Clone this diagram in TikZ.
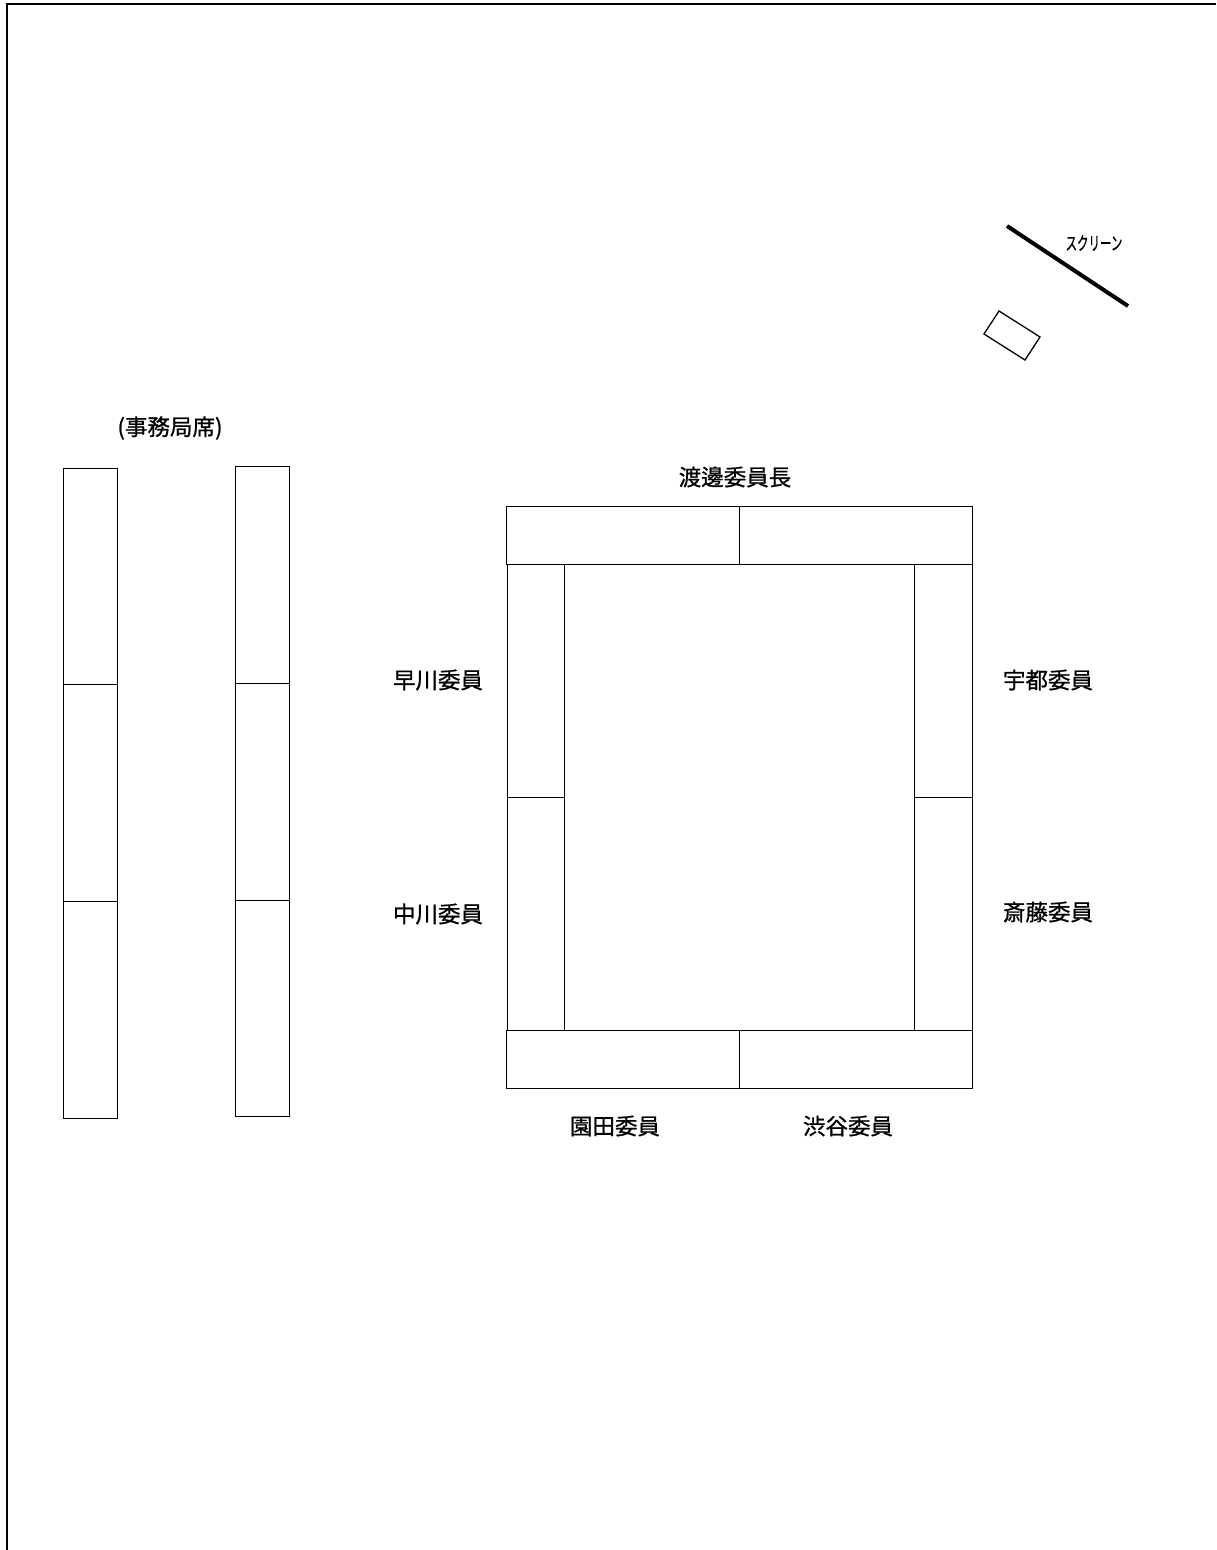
\documentclass[tikz,border=0pt]{standalone}
\usepackage{fontspec}
\newfontfamily\cjk{Noto Sans CJK JP}[FakeBold=0.9]
\begin{document}
\begin{tikzpicture}[x=1pt,y=-1pt,
  seat/.style={draw=black,line width=1pt},
  lbl/.style={font=\cjk\fontsize{22.5}{26}\selectfont,inner sep=0pt,anchor=center},
  frame/.style={draw=black,line width=1.6pt}]
\useasboundingbox (0,0) rectangle (1216,1550);
% page frame
\draw[frame] (1216,4) -- (7,4) -- (7,1550);
% secretariat tables
\draw[seat] (63,468) rectangle (117,684);
\draw[seat] (63,684) rectangle (117,901);
\draw[seat] (63,901) rectangle (117,1118);
\draw[seat] (235,466) rectangle (289,683);
\draw[seat] (235,683) rectangle (289,900);
\draw[seat] (235,900) rectangle (289,1116);
% main table
\draw[seat] (506,506) rectangle (739,564);
\draw[seat] (739,506) rectangle (972,564);
\draw[seat] (507,564) rectangle (564,797);
\draw[seat] (507,797) rectangle (564,1030);
\draw[seat] (914,564) rectangle (972,797);
\draw[seat] (914,797) rectangle (972,1030);
\draw[seat] (506,1030) rectangle (739,1088);
\draw[seat] (739,1030) rectangle (972,1088);
% screen and projector
\coordinate (s1) at (1007,226);
\coordinate (s2) at (1128,306);
\draw[line width=4pt] (s1) -- (s2);
\draw[seat,line width=1.3pt] (984,334) -- (999,311) -- (1040,337) -- (1025,360) -- cycle;
\node[inner sep=0pt] (scr) at (1094,243) {\scalebox{0.62}[1]{\cjk\fontsize{18.5}{20}\selectfont スクリーン}};
% labels
\node[lbl] (jim) at (170,428) {(事務局席)};
\node[lbl] (chair) at (735,477) {渡邊委員長};
\node[lbl] (hayakawa) at (438,680) {早川委員};
\node[lbl] (nakagawa) at (438,914) {中川委員};
\node[lbl] (uto) at (1048,680) {宇都委員};
\node[lbl] (saito) at (1048,912) {斎藤委員};
\node[lbl] (sonoda) at (615,1126) {園田委員};
\node[lbl] (shibuya) at (848,1126) {渋谷委員};
\end{tikzpicture}
\end{document}
